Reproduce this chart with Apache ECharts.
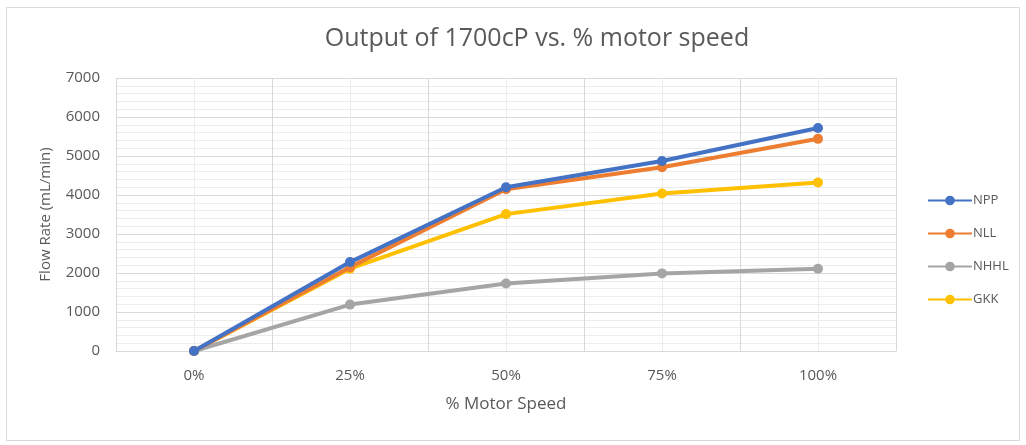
<!DOCTYPE html>
<html><head><meta charset="utf-8">
<script src="https://cdn.jsdelivr.net/npm/echarts@6/dist/echarts.min.js"></script>
<style>html,body{margin:0;padding:0;background:#fff;}#c{width:1026px;height:445px;}</style>
</head><body><div id="c"></div>
<script>
const categories = ['0%', '25%', '50%', '75%', '100%'];
const seriesNames = ['NPP', 'NLL', 'NHHL', 'GKK'];
const NPP  = [0, 2280, 4200, 4870, 5720];
const NLL  = [0, 2150, 4150, 4710, 5440];
const NHHL = [0, 1190, 1730, 1990, 2110];
const GKK  = [0, 2110, 3510, 4040, 4320];
const yTicks = [0, 1000, 2000, 3000, 4000, 5000, 6000, 7000];
const colors = ['#4472C4', '#ED7D31', '#A5A5A5', '#FFC000'];
const values = [NPP, NLL, NHHL, GKK];

const FONT = 'Open Sans';
const chart = echarts.init(document.getElementById('c'));
chart.setOption({
  animation: false,
  graphic: [{type:'rect', shape:{x:6.5,y:7.5,width:1013,height:433}, style:{fill:'none', stroke:'#d9d9d9', lineWidth:1}, silent:true, z:-10}],
  title: {text: 'Output of 1700cP vs. % motor speed', left: 532, top: 21, textAlign: 'center',
    textStyle: {fontFamily: FONT, fontSize: 25, fontWeight: 'normal', color: '#595959'}},
  legend: {orient: 'vertical', left: 922, top: 189, itemGap: 20, itemWidth: 44, itemHeight: 12,
    textStyle: {fontFamily: FONT, fontSize: 13, color: '#595959', padding:[0,0,0,-4]}, data: seriesNames},
  grid: {left: 116, right: 130, top: 78, bottom: 94},
  xAxis: [{type: 'category', data: categories, boundaryGap: true,
    name: '% Motor Speed', nameLocation: 'middle', nameGap: 45,
    nameTextStyle: {fontFamily: FONT, fontSize: 17, color: '#595959'},
    axisLine: {lineStyle: {color: '#d9d9d9'}}, axisTick: {show: false},
    axisLabel: {fontFamily: FONT, fontSize: 15, color: '#595959', margin: 17},
    splitLine: {show: false}},
   {type: 'value', min: 0, max: 5, interval: 1, show: true, position: 'bottom',
    axisLine: {show: false}, axisTick: {show: false}, axisLabel: {show: false},
    splitLine: {show: true, lineStyle: {color: '#d9d9d9', width: 1}},
    minorTick: {show: false, splitNumber: 2},
    minorSplitLine: {show: true, lineStyle: {color: '#ececec', width: 1}}}],
  yAxis: {type: 'value', min: yTicks[0], max: yTicks[yTicks.length-1], interval: 1000,
    name: 'Flow Rate (mL/min)', nameLocation: 'middle', nameGap: 63,
    nameTextStyle: {fontFamily: FONT, fontSize: 15, color: '#595959'},
    axisLine: {show: false}, axisTick: {show: false},
    axisLabel: {fontFamily: FONT, fontSize: 15, color: '#595959', margin: 16, formatter: v => String(v)},
    splitLine: {lineStyle: {color: '#d9d9d9'}},
    minorTick: {show: false, splitNumber: 5},
    minorSplitLine: {show: true, lineStyle: {color: '#ececec'}}},
  series: seriesNames.map((n, i) => ({
    name: n, type: 'line', xAxisIndex: 0, data: values[i],
    symbol: 'circle', symbolSize: 10,
    lineStyle: {color: colors[i], width: 4},
    itemStyle: {color: colors[i]},
    z: 10 - i
  }))
});
</script></body></html>
